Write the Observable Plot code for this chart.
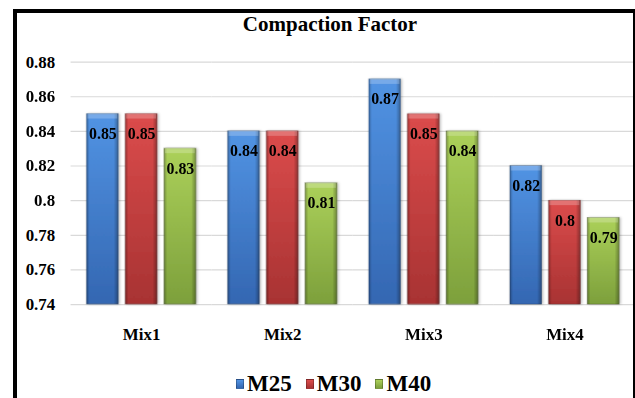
<!DOCTYPE html>
<html>
<head>
<meta charset="utf-8">
<script src="https://cdn.jsdelivr.net/npm/d3@7"></script>
<script src="https://cdn.jsdelivr.net/npm/@observablehq/plot@0.6"></script>
<style>
  html, body { margin: 0; padding: 0; background: #fff; overflow: hidden; }
  #wrap { position: relative; width: 635px; height: 398px; overflow: hidden; background: #fff;
          font-family: "Liberation Serif", "Times New Roman", serif; color: #000; }
  #frame { position: absolute; left: 13px; top: 9px; width: 624px; height: 500px;
           border: 4px solid #000; box-sizing: border-box; pointer-events: none; z-index: 3; }
  #chart { position: absolute; left: 0; top: 0; z-index: 1; }
  #title { position: absolute; left: 180px; width: 300px; top: 14px; text-align: center;
           font-size: 21px; line-height: 21px; font-weight: bold; z-index: 2; }
  #legend { position: absolute; left: 236px; top: 372px; display: flex; align-items: center;
            gap: 14px; font-size: 23px; line-height: 23px; font-weight: bold; z-index: 2; }
  .item { display: flex; align-items: center; gap: 3px; }
  .sw { width: 8px; height: 10px; box-sizing: border-box; }
</style>
</head>
<body>
<div id="wrap">
  <div id="chart"></div>
  <div id="title"></div>
  <div id="legend"></div>
  <div id="frame"></div>
</div>
<script>
// ---- data ----
const titleText = "Compaction Factor";
const mixes = ["Mix1", "Mix2", "Mix3", "Mix4"];
const series = ["M25", "M30", "M40"];
const m25 = [0.85, 0.84, 0.87, 0.82];
const m30 = [0.85, 0.84, 0.85, 0.80];
const m40 = [0.83, 0.81, 0.84, 0.79];
const yDomain = [0.74, 0.88];
const yTicks = [0.74, 0.76, 0.78, 0.80, 0.82, 0.84, 0.86, 0.88];

// ---- styles ----
const palette = {
  M25: ["#5294e4", "#3467b2"],
  M30: ["#dc4c4c", "#a83333"],
  M40: ["#acd15a", "#7da03c"]
};

const valuesBySeries = [m25, m30, m40];
const data = mixes.flatMap((mix, i) =>
  series.map((s, j) => ({ mix, series: s, value: valuesBySeries[j][i] }))
);

document.getElementById("title").textContent = titleText;

const chart = Plot.plot({
  width: 639,
  height: 350,
  marginLeft: 70,
  marginRight: 0,
  marginTop: 62,
  marginBottom: 44,
  style: { fontFamily: '"Liberation Serif", "Times New Roman", serif', color: "#000", background: "transparent", overflow: "visible" },
  fx: { domain: mixes, padding: 0, axis: null, label: null },
  x: { domain: series, paddingInner: 0.177, paddingOuter: 0.389, axis: null },
  y: { domain: yDomain, axis: null },
  color: { domain: series, range: series.map(s => `url(#grad-${s})`) },
  marks: [
    Plot.ruleY(yTicks, { stroke: "#d9d9d9", strokeWidth: 1.2 }),
    Plot.barY(data, { fx: "mix", x: "series", y1: yDomain[0], y2: "value", fill: "series",
                      stroke: "rgba(0,0,0,0.35)", strokeWidth: 0.6 }),
    Plot.barY(data, { fx: "mix", x: "series", y1: yDomain[0], y2: "value", fill: "url(#grad-edge)" }),
    Plot.barY(data, { fx: "mix", x: "series", y1: "value", y2: "value", insetBottom: -5,
                      insetLeft: 1, insetRight: 1, fill: "#fff", fillOpacity: 0.22 }),
    Plot.text(data, { fx: "mix", x: "series", y: "value", text: d => String(d.value), dy: 20,
                      fontSize: 16, fontWeight: "bold", fill: "#000" }),
    Plot.axisY(yTicks, { tickSize: 0, tickPadding: 16, tickFormat: d => String(d),
                         fontSize: 17, fontWeight: "bold", label: null }),
    Plot.axisFx({ anchor: "bottom", tickSize: 0, tickPadding: 24, fontSize: 17,
                  fontWeight: "bold", label: null })
  ]
});

// gradient definitions
const svg = d3.select(chart.tagName.toLowerCase() === "svg" ? chart : chart.querySelector("svg"));
const defs = svg.insert("defs", ":first-child");
series.forEach(s => {
  const g = defs.append("linearGradient").attr("id", `grad-${s}`)
    .attr("x1", 0).attr("y1", 0).attr("x2", 0).attr("y2", 1);
  g.append("stop").attr("offset", "0%").attr("stop-color", palette[s][0]);
  g.append("stop").attr("offset", "100%").attr("stop-color", palette[s][1]);
});
const ge = defs.append("linearGradient").attr("id", "grad-edge")
  .attr("x1", 0).attr("y1", 0).attr("x2", 1).attr("y2", 0);
[[0, 0.28], [0.1, 0.0], [0.86, 0.0], [1, 0.32]].forEach(([o, a]) =>
  ge.append("stop").attr("offset", o).attr("stop-color", "#000").attr("stop-opacity", a));
const f = defs.append("filter").attr("id", "shadow").attr("x", "-20%").attr("y", "-20%")
  .attr("width", "140%").attr("height", "140%");
f.append("feDropShadow").attr("dx", 1.5).attr("dy", 0).attr("stdDeviation", 1)
  .attr("flood-color", "#000").attr("flood-opacity", 0.25);
svg.selectAll("g[aria-label='bar']").filter((d, i) => i === 0).attr("filter", "url(#shadow)");

document.getElementById("chart").appendChild(chart);

// legend
const legend = d3.select("#legend");
series.forEach(s => {
  const it = legend.append("div").attr("class", "item");
  it.append("div").attr("class", "sw")
    .style("background", `linear-gradient(${palette[s][0]}, ${palette[s][1]})`)
    .style("border", "1px solid rgba(0,0,0,0.25)");
  it.append("span").text(s);
});
</script>
</body>
</html>
